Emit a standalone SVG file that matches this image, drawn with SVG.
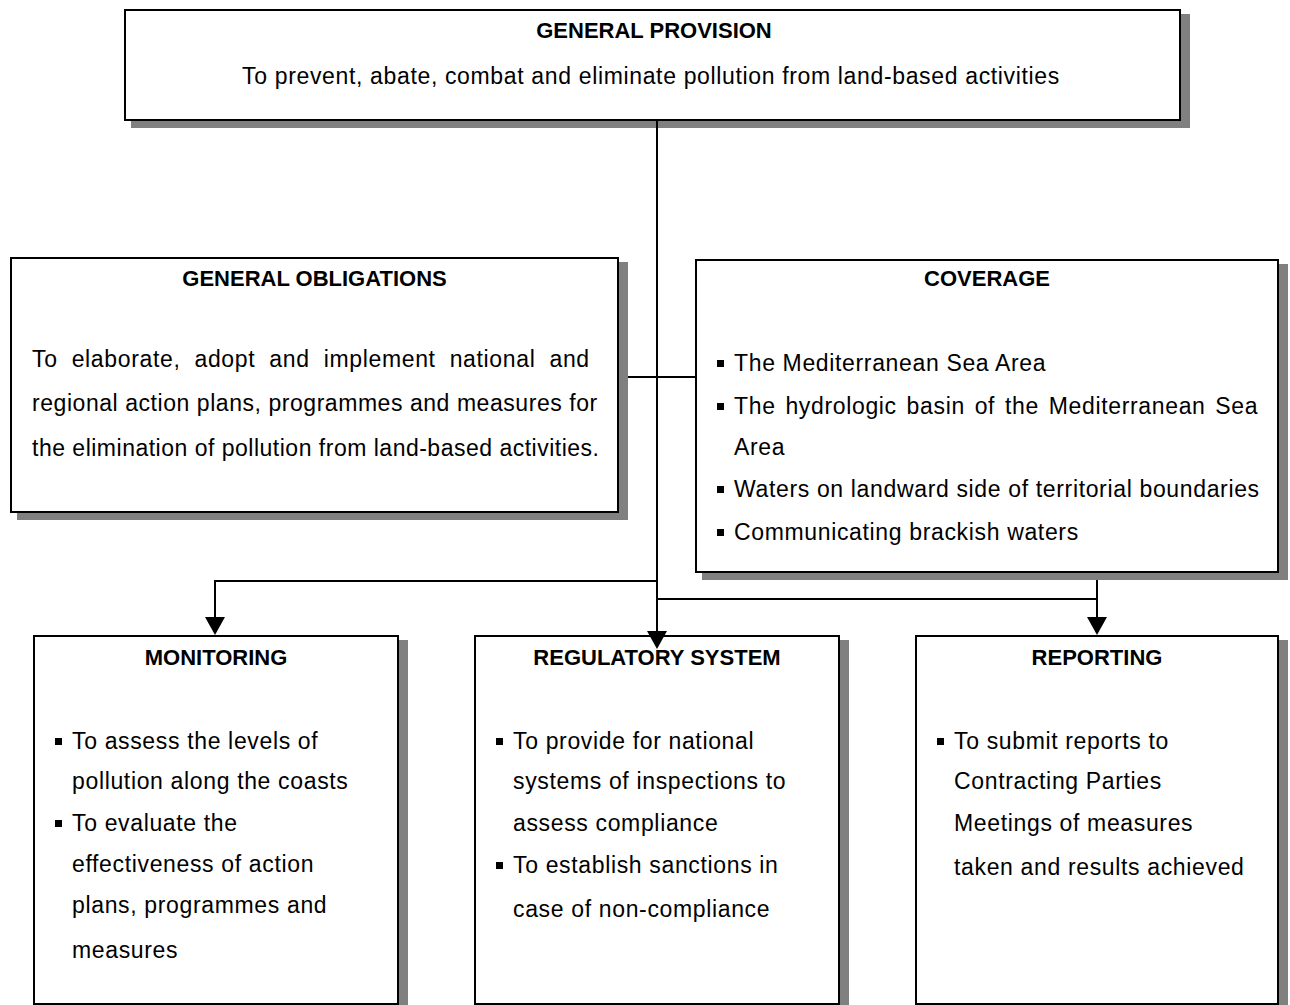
<svg xmlns="http://www.w3.org/2000/svg" width="1290" height="1005" viewBox="0 0 1290 1005">
  <defs>
    <style>
      .shadow { fill: #808080; }
      .box { fill: #ffffff; stroke: #000000; stroke-width: 2; }
      .h { font-family: "Liberation Sans", Arial, sans-serif; font-weight: bold; font-size: 22px; text-anchor: middle; fill: #000; }
      .t { font-family: "Liberation Sans", Arial, sans-serif; font-size: 23px; letter-spacing: 0.65px; fill: #000; }
      .c { text-anchor: middle; }
      .bul { fill: #000; }
      .wire { fill: none; stroke: #000; stroke-width: 2; }
    </style>
    <marker id="arrow" viewBox="0 0 18 20" refX="0" refY="10" markerWidth="18" markerHeight="20" markerUnits="userSpaceOnUse" orient="auto">
      <path d="M0,0 L18,10 L0,20 Z" fill="#000"/>
    </marker>
  </defs>

  <rect width="1290" height="1005" fill="#ffffff"/>

  <!-- top: general provision -->
  <g id="general-provision">
    <rect class="shadow" x="131" y="14" width="1059" height="114"/>
    <rect class="box" x="125" y="10" width="1055" height="110"/>
    <text class="h" x="654" y="38">GENERAL PROVISION</text>
    <text class="t c" x="651" y="84">To prevent, abate, combat and eliminate pollution from land-based activities</text>
  </g>

  <!-- general obligations -->
  <g id="general-obligations">
    <rect class="shadow" x="17" y="262" width="611" height="258"/>
    <rect class="box" x="11" y="258" width="607" height="254"/>
    <text class="h" x="314.5" y="286">GENERAL OBLIGATIONS</text>
    <text class="t" x="32" y="367" style="word-spacing:7px">To elaborate, adopt and implement national and</text>
    <text class="t" x="32" y="411" style="letter-spacing:0.55px">regional action plans, programmes and measures for</text>
    <text class="t" x="32" y="456" style="letter-spacing:0.5px">the elimination of pollution from land-based activities.</text>
  </g>

  <!-- coverage -->
  <g id="coverage">
    <rect class="shadow" x="702" y="264" width="586" height="316"/>
    <rect class="box" x="696" y="260" width="582" height="312"/>
    <text class="h" x="987" y="286">COVERAGE</text>
    <rect class="bul" x="717" y="360" width="7" height="7"/>
    <text class="t" x="734" y="371">The Mediterranean Sea Area</text>
    <rect class="bul" x="717" y="403" width="7" height="7"/>
    <text class="t" x="734" y="414" style="word-spacing:2.8px">The hydrologic basin of the Mediterranean Sea</text>
    <text class="t" x="734" y="455">Area</text>
    <rect class="bul" x="717" y="486" width="7" height="7"/>
    <text class="t" x="734" y="497">Waters on landward side of territorial boundaries</text>
    <rect class="bul" x="717" y="529" width="7" height="7"/>
    <text class="t" x="734" y="540">Communicating brackish waters</text>
  </g>

  <!-- monitoring -->
  <g id="monitoring">
    <rect class="shadow" x="40" y="640" width="368" height="372"/>
    <rect class="box" x="34" y="636" width="364" height="368"/>
    <text class="h" x="216" y="665">MONITORING</text>
    <rect class="bul" x="55" y="738" width="7" height="7"/>
    <text class="t" x="72" y="749">To assess the levels of</text>
    <text class="t" x="72" y="789">pollution along the coasts</text>
    <rect class="bul" x="55" y="820" width="7" height="7"/>
    <text class="t" x="72" y="831">To evaluate the</text>
    <text class="t" x="72" y="872">effectiveness of action</text>
    <text class="t" x="72" y="913">plans, programmes and</text>
    <text class="t" x="72" y="958">measures</text>
  </g>

  <!-- regulatory system -->
  <g id="regulatory-system">
    <rect class="shadow" x="481" y="640" width="368" height="372"/>
    <rect class="box" x="475" y="636" width="364" height="368"/>
    <text class="h" x="657" y="665">REGULATORY SYSTEM</text>
    <rect class="bul" x="496" y="738" width="7" height="7"/>
    <text class="t" x="513" y="749">To provide for national</text>
    <text class="t" x="513" y="789">systems of inspections to</text>
    <text class="t" x="513" y="831">assess compliance</text>
    <rect class="bul" x="496" y="862" width="7" height="7"/>
    <text class="t" x="513" y="873">To establish sanctions in</text>
    <text class="t" x="513" y="917">case of non-compliance</text>
  </g>

  <!-- reporting -->
  <g id="reporting">
    <rect class="shadow" x="922" y="640" width="366" height="372"/>
    <rect class="box" x="916" y="636" width="362" height="368"/>
    <text class="h" x="1097" y="665">REPORTING</text>
    <rect class="bul" x="937" y="738" width="7" height="7"/>
    <text class="t" x="954" y="749">To submit reports to</text>
    <text class="t" x="954" y="789">Contracting Parties</text>
    <text class="t" x="954" y="831">Meetings of measures</text>
    <text class="t" x="954" y="875">taken and results achieved</text>
  </g>

  <!-- connectors, drawn over the boxes so the centre arrowhead stays visible -->
  <g id="connectors">
    <path class="wire" d="M657,121 V631" marker-end="url(#arrow)"/>
    <path class="wire" d="M628,377 H696"/>
    <path class="wire" d="M657,581 H215 V617" marker-end="url(#arrow)"/>
    <path class="wire" d="M657,599 H1097"/>
    <path class="wire" d="M1097,580 V617" marker-end="url(#arrow)"/>
  </g>
</svg>
